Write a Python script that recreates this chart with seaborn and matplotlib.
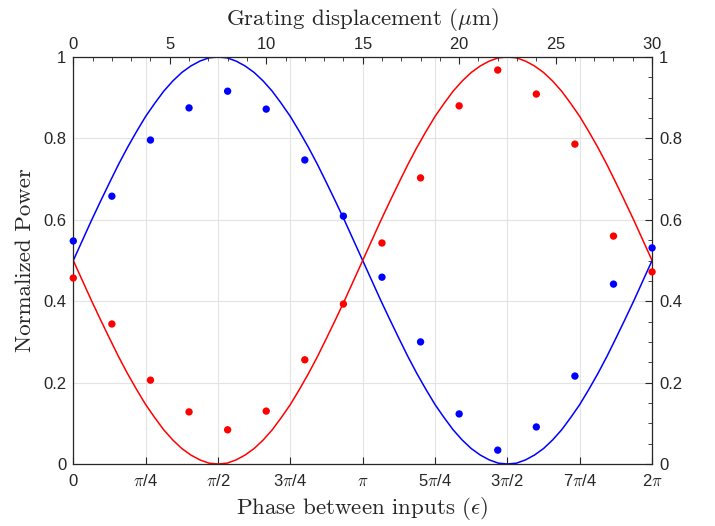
import numpy as np
import pandas as pd
import matplotlib
matplotlib.use("Agg")
import matplotlib.pyplot as plt
import seaborn as sns

# measured points (grating displacement in um)
disp_um = [0, 2, 4, 6, 8, 10, 12, 14, 16, 18, 20, 22, 24, 26, 28, 30]
blue_pts = [0.548, 0.658, 0.796, 0.875, 0.916, 0.872, 0.747, 0.609,
            0.459, 0.300, 0.123, 0.034, 0.091, 0.216, 0.442, 0.531]
red_pts = [0.457, 0.344, 0.206, 0.128, 0.084, 0.130, 0.256, 0.393,
           0.543, 0.703, 0.880, 0.968, 0.909, 0.786, 0.560, 0.472]

# model curves, read every pi/32 of phase
curve_phase_32nds = list(range(65))
blue_curve = [0.500, 0.549, 0.598, 0.645, 0.691, 0.736, 0.778, 0.817, 0.854,
              0.886, 0.916, 0.941, 0.962, 0.978, 0.990, 0.998, 1.000,
              0.998, 0.990, 0.978, 0.962, 0.941, 0.916, 0.886, 0.854,
              0.817, 0.778, 0.736, 0.691, 0.645, 0.598, 0.549, 0.500,
              0.451, 0.402, 0.355, 0.309, 0.264, 0.222, 0.183, 0.146,
              0.114, 0.084, 0.059, 0.038, 0.022, 0.010, 0.002, 0.000,
              0.002, 0.010, 0.022, 0.038, 0.059, 0.084, 0.114, 0.146,
              0.183, 0.222, 0.264, 0.309, 0.355, 0.402, 0.451, 0.500]
red_curve = [0.500, 0.451, 0.402, 0.355, 0.309, 0.264, 0.222, 0.183, 0.146,
             0.114, 0.084, 0.059, 0.038, 0.022, 0.010, 0.002, 0.000,
             0.002, 0.010, 0.022, 0.038, 0.059, 0.084, 0.114, 0.146,
             0.183, 0.222, 0.264, 0.309, 0.355, 0.402, 0.451, 0.500,
             0.549, 0.598, 0.645, 0.691, 0.736, 0.778, 0.817, 0.854,
             0.886, 0.916, 0.941, 0.962, 0.978, 0.990, 0.998, 1.000,
             0.998, 0.990, 0.978, 0.962, 0.941, 0.916, 0.886, 0.854,
             0.817, 0.778, 0.736, 0.691, 0.645, 0.598, 0.549, 0.500]

phase_ticks = [r'0', r'$\pi$/4', r'$\pi$/2', r'3$\pi$/4', r'$\pi$',
               r'5$\pi$/4', r'3$\pi$/2', r'7$\pi$/4', r'2$\pi$']
disp_ticks = [0, 5, 10, 15, 20, 25, 30]

sns.set_style("white")
plt.rcParams['font.family'] = ['Liberation Sans', 'DejaVu Sans']
plt.rcParams['mathtext.fontset'] = 'cm'
plt.rcParams['axes.formatter.use_mathtext'] = True

dark = '#262626'

fig = plt.figure(figsize=(7.15, 5.26), dpi=100)
ax = fig.add_axes([0.1025, 0.1179, 0.8095, 0.7737])

curves = pd.DataFrame({
    'phase': np.array(curve_phase_32nds) * np.pi / 32,
    'blue': blue_curve, 'red': red_curve})
pts = pd.DataFrame({
    'phase': np.array(disp_um) * 2 * np.pi / 30,
    'blue': blue_pts, 'red': red_pts})

sns.lineplot(data=curves, x='phase', y='blue', color='#0000ff', lw=1.1, ax=ax)
sns.lineplot(data=curves, x='phase', y='red', color='#ff0000', lw=1.1, ax=ax)
sns.scatterplot(data=pts, x='phase', y='blue', color='#0000ff', s=28,
                edgecolor='none', ax=ax, zorder=3, clip_on=False)
sns.scatterplot(data=pts, x='phase', y='red', color='#ff0000', s=28,
                edgecolor='none', ax=ax, zorder=3, clip_on=False)

ax.set_xlim(0, 2 * np.pi)
ax.set_ylim(0, 1)
ax.set_xticks(np.arange(9) * np.pi / 4)
ax.set_xticklabels(phase_ticks)
ax.set_yticks([0, 0.2, 0.4, 0.6, 0.8, 1])
ax.set_yticklabels(['0', '0.2', '0.4', '0.6', '0.8', '1'])
ax.set_yticks(np.arange(0, 1.001, 0.05), minor=True)
ax.grid(True, which='major', color='#e3e3e3', lw=0.8)
ax.tick_params(which='both', direction='in', colors=dark, labelsize=12,
               right=True, labelright=True, top=False)
ax.tick_params(axis='x', pad=7)
ax.tick_params(axis='y', pad=5)
ax.tick_params(which='major', length=5, width=0.8)
ax.tick_params(which='minor', length=3, width=0.6)
for s in ax.spines.values():
    s.set_color(dark)
    s.set_linewidth(0.9)

ax.set_xlabel(r'Phase between inputs ($\epsilon$)', fontname='cmr10',
              fontsize=16.5, color=dark, labelpad=4)
ax.set_ylabel('Normalized Power', fontname='cmr10', fontsize=16.5,
              color=dark, labelpad=6)

top = ax.twiny()
top.set_xlim(0, 30)
top.set_xticks(disp_ticks)
top.set_xticks(range(31), minor=True)
top.tick_params(which='both', direction='in', colors=dark, labelsize=12)
top.tick_params(which='major', length=5, width=0.8)
top.tick_params(which='minor', length=3, width=0.6)
for s in top.spines.values():
    s.set_visible(False)
top.set_xlabel(r'Grating displacement ($\mu$m)', fontname='cmr10',
               fontsize=16.5, color=dark, labelpad=8)

fig.savefig('out.png', dpi=100)
